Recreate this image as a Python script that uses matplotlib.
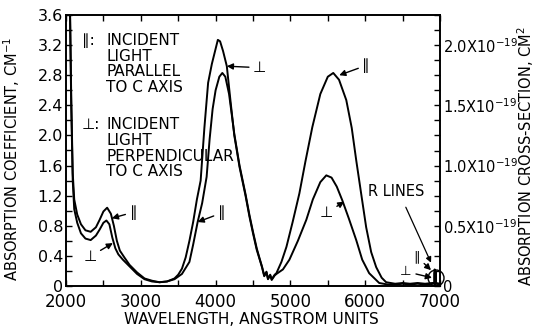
import numpy as np
import matplotlib
matplotlib.use("Agg")
import matplotlib.pyplot as plt
from matplotlib.patches import Ellipse

plt.rcParams['font.family'] = ['DejaVu Sans']

# wavelength (angstrom) and absorption coefficient (cm^-1)
wl_par = [2040, 2055, 2070, 2090, 2110, 2150, 2200, 2260, 2330, 2400, 2450, 2500,
          2550, 2600, 2640, 2680, 2720, 2780, 2850, 2950, 3050, 3150, 3250, 3350,
          3450, 3550, 3650, 3700, 3760, 3820, 3880, 3920, 3960, 4000, 4050, 4090,
          4130, 4180, 4250, 4320, 4400, 4453, 4500, 4550, 4590, 4620, 4650, 4680,
          4700, 4730, 4750, 4790, 4813, 4880, 4947, 5030, 5120, 5200, 5293, 5400,
          5500, 5573, 5650, 5747, 5820, 5880, 5950, 6013, 6080, 6147, 6220, 6280,
          6400, 6500, 6600, 6700, 6800, 6900, 6925, 6929, 6933, 6939, 6943, 6947, 7000]
abs_par = [4.5, 3.6, 2.5, 1.5, 1.15, 0.95, 0.82, 0.74, 0.72, 0.78, 0.88, 0.99,
           1.04, 0.96, 0.8, 0.6, 0.47, 0.38, 0.28, 0.18, 0.1, 0.07, 0.05, 0.06,
           0.09, 0.16, 0.32, 0.55, 0.85, 1.1, 1.45, 1.95, 2.35, 2.6, 2.78, 2.83,
           2.78, 2.55, 2.02, 1.6, 1.22, 0.94, 0.72, 0.5, 0.36, 0.26, 0.14, 0.19,
           0.1, 0.15, 0.09, 0.15, 0.17, 0.32, 0.52, 0.85, 1.23, 1.65, 2.11, 2.55,
           2.78, 2.83, 2.74, 2.47, 2.1, 1.67, 1.2, 0.78, 0.45, 0.25, 0.11, 0.05,
           0.03, 0.04, 0.03, 0.04, 0.03, 0.04, 0.04, 0.22, 0.04, 0.04, 0.2, 0.04, 0.03]

wl_perp = [2040, 2055, 2070, 2090, 2110, 2150, 2200, 2260, 2330, 2400, 2450, 2500,
           2540, 2580, 2620, 2660, 2700, 2760, 2850, 2950, 3050, 3150, 3250, 3350,
           3450, 3500, 3550, 3600, 3650, 3700, 3750, 3800, 3850, 3900, 3950, 4000,
           4030, 4060, 4100, 4150, 4200, 4250, 4320, 4400, 4453, 4500, 4550, 4590,
           4620, 4650, 4680, 4700, 4730, 4750, 4790, 4813, 4900, 4987, 5100, 5213,
           5300, 5400, 5480, 5550, 5620, 5693, 5780, 5880, 5960, 6053, 6187, 6300,
           6400, 6500, 6600, 6700, 6800, 6900, 6925, 6929, 6933, 6939, 6943, 6947, 7000]
abs_perp = [4.5, 3.5, 2.4, 1.4, 1.02, 0.84, 0.7, 0.63, 0.61, 0.67, 0.75, 0.84,
            0.87, 0.82, 0.64, 0.5, 0.42, 0.35, 0.26, 0.16, 0.09, 0.06, 0.05, 0.06,
            0.1, 0.15, 0.23, 0.38, 0.6, 0.85, 1.15, 1.4, 2.1, 2.7, 2.95, 3.15,
            3.27, 3.25, 3.12, 2.92, 2.45, 2.0, 1.58, 1.2, 0.92, 0.7, 0.48, 0.35,
            0.25, 0.13, 0.18, 0.09, 0.14, 0.08, 0.14, 0.16, 0.22, 0.35, 0.6, 0.88,
            1.15, 1.38, 1.47, 1.44, 1.32, 1.14, 0.9, 0.61, 0.35, 0.17, 0.04, 0.02,
            0.02, 0.03, 0.02, 0.03, 0.02, 0.03, 0.03, 0.18, 0.03, 0.03, 0.16, 0.03, 0.02]

xticks = [2000, 3000, 4000, 5000, 6000, 7000]
yticks = [0, 0.4, 0.8, 1.2, 1.6, 2.0, 2.4, 2.8, 3.2, 3.6]
ytick_labels = ['0', '0.4', '0.8', '1.2', '1.6', '2.0', '2.4', '2.8', '3.2', '3.6']
cs_ticks = [0, 0.5, 1.0, 1.5, 2.0]
cs_labels = ['0', '0.5X10$^{-19}$', '1.0X10$^{-19}$', '1.5X10$^{-19}$', '2.0X10$^{-19}$']
cm_per_cs = 1.6  # 1e-19 cm^2 of cross-section -> cm^-1

fig = plt.figure(figsize=(5.37, 3.30), dpi=100)
ax = fig.add_axes([66/537, 44/330, 374/537, 271/330])

ax.plot(wl_par, abs_par, color='black', lw=1.4)
ax.plot(wl_perp, abs_perp, color='black', lw=1.4)

ax.set_xlim(2000, 7000)
ax.set_ylim(0, 3.6)
ax.set_xticks(xticks)
ax.set_xticks(np.arange(2000, 7001, 500), minor=True)
ax.set_yticks(yticks)
ax.set_yticklabels(ytick_labels)
ax.set_yticks(np.arange(0, 3.61, 0.2), minor=True)
ax.tick_params(which='both', direction='in', top=True, right=False, length=4, width=1)
ax.tick_params(axis='x', labelsize=12, pad=5)
ax.tick_params(axis='y', labelsize=11.5, pad=2)
for s in ax.spines.values():
    s.set_linewidth(1.2)

ax.set_xlabel('WAVELENGTH, ANGSTROM UNITS', fontsize=11)
ax.xaxis.set_label_coords(0.495, -0.095)
ax.set_ylabel('ABSORPTION COEFFICIENT, CM$^{-1}$', fontsize=10.5)
ax.yaxis.set_label_coords(-0.118, 0.47)

ax2 = ax.twinx()
ax2.set_ylim(0, 3.6 / cm_per_cs)
ax2.set_yticks(cs_ticks)
ax2.set_yticklabels(cs_labels)
ax2.set_yticks(np.arange(0, 2.26, 0.125), minor=True)
ax2.tick_params(which='both', direction='in', length=4, width=1, labelsize=10.5, pad=2)
ax2.set_ylabel('ABSORPTION CROSS-SECTION, CM$^{2}$', fontsize=10.5)
ax2.yaxis.set_label_coords(1.2, 0.48)
for s in ax2.spines.values():
    s.set_linewidth(1.2)

# legend block
ax.text(2213, 3.36, '\u2225:', fontsize=11, va='top', ha='left')
ax.text(2540, 3.36, 'INCIDENT\nLIGHT\nPARALLEL\nTO C AXIS', fontsize=11, va='top',
        ha='left', linespacing=1.05)
ax.text(2213, 2.24, '\u22a5:', fontsize=11, va='top', ha='left')
ax.text(2540, 2.24, 'INCIDENT\nLIGHT\nPERPENDICULAR\nTO C AXIS', fontsize=11, va='top',
        ha='left', linespacing=1.05)

arrow = dict(arrowstyle='-|>', color='black', lw=1.0, mutation_scale=9, shrinkA=1, shrinkB=0)
ax.annotate('\u2225', xy=(2613, 0.9), xytext=(2900, 0.98), fontsize=11,
            ha='center', va='center', arrowprops=arrow)
ax.annotate('\u22a5', xy=(2627, 0.57), xytext=(2320, 0.39), fontsize=11,
            ha='center', va='center', arrowprops=arrow)
ax.annotate('\u22a5', xy=(4150, 2.92), xytext=(4590, 2.9), fontsize=11,
            ha='center', va='center', arrowprops=arrow)
ax.annotate('\u2225', xy=(3760, 0.85), xytext=(4080, 0.97), fontsize=11,
            ha='center', va='center', arrowprops=arrow)
ax.annotate('\u2225', xy=(5653, 2.8), xytext=(6013, 2.93), fontsize=11,
            ha='center', va='center', arrowprops=arrow)
ax.annotate('\u22a5', xy=(5720, 1.12), xytext=(5480, 0.97), fontsize=11,
            ha='center', va='center', arrowprops=arrow)

# R lines
ax.annotate('R LINES', xy=(6880, 0.31), xytext=(6420, 1.25), fontsize=10.5,
            ha='center', va='center',
            arrowprops=dict(arrowstyle='-|>', color='black', lw=0.9, mutation_scale=8,
                            shrinkA=4, shrinkB=0, relpos=(0.6, 0)))
ax.annotate('\u2225', xy=(6880, 0.21), xytext=(6693, 0.39), fontsize=9.5,
            ha='center', va='center', arrowprops=arrow)
ax.annotate('\u22a5', xy=(6893, 0.11), xytext=(6547, 0.19), fontsize=9.5,
            ha='center', va='center', arrowprops=arrow)
ax.add_patch(Ellipse((6947, 0.106), 213, 0.2125, fill=False, lw=1.0,
                     edgecolor='black', clip_on=False))

fig.savefig('out.png', dpi=100)
